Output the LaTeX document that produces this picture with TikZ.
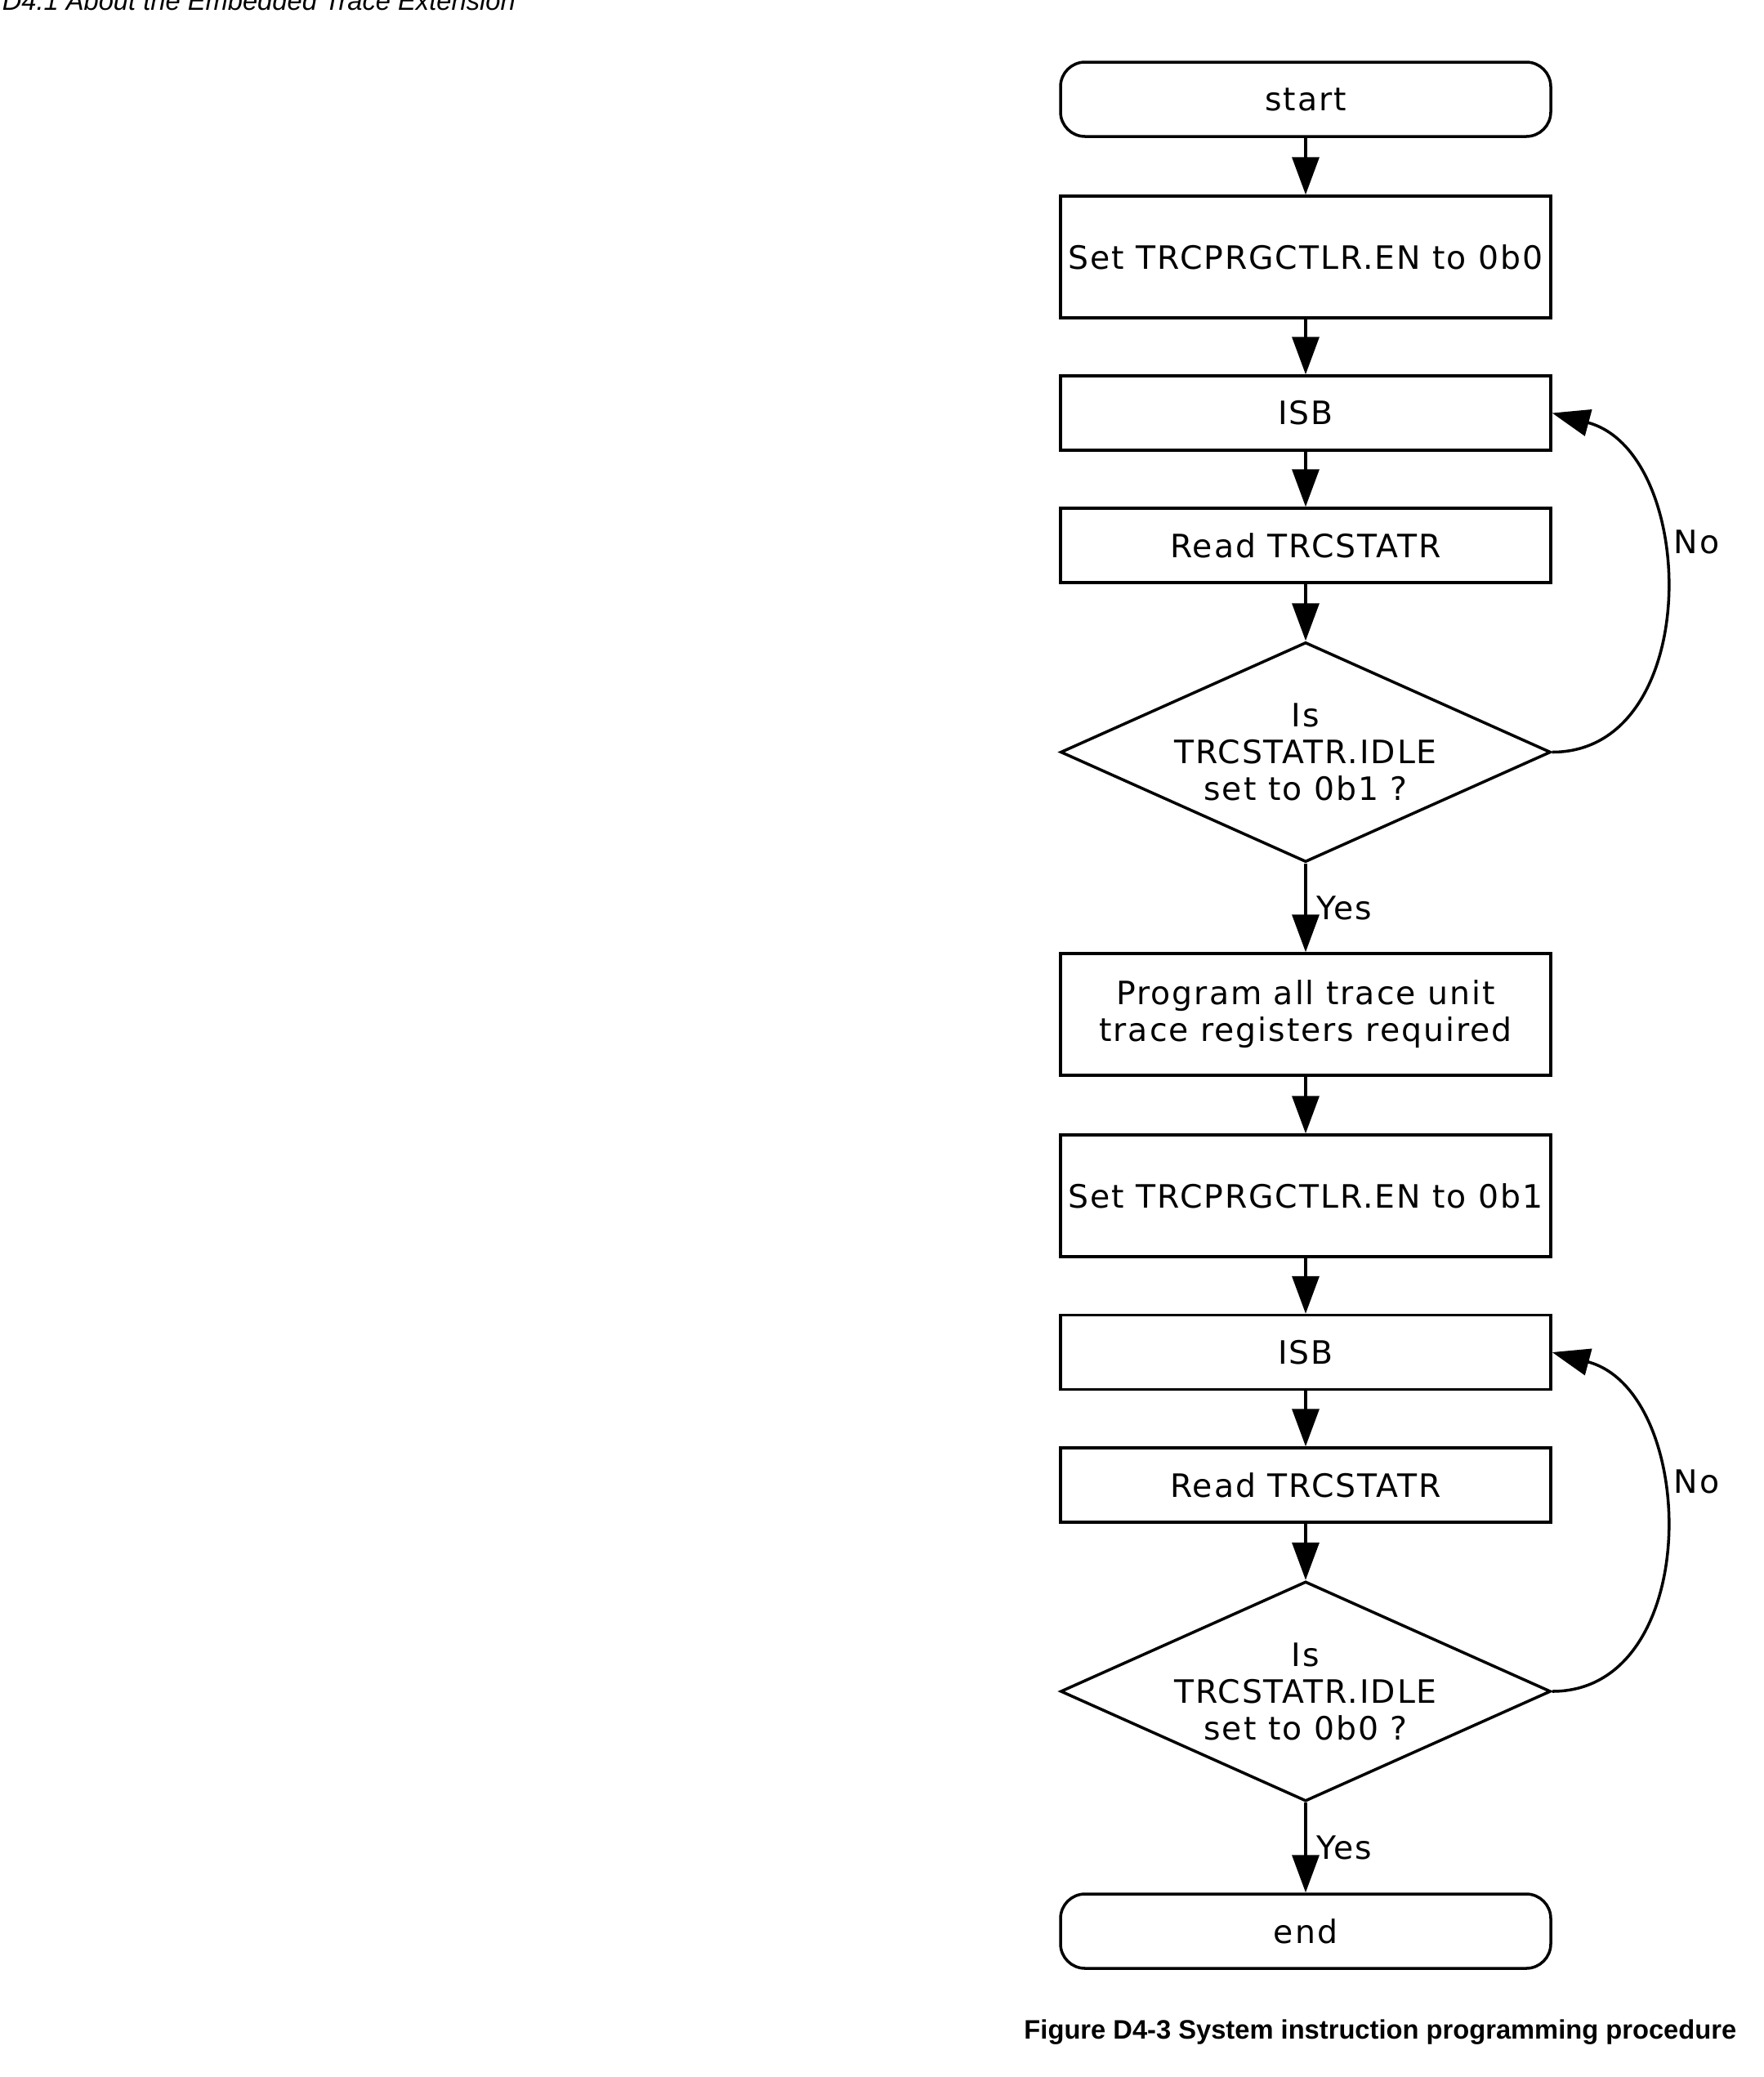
\documentclass[tikz,border=0pt]{standalone}
\usepackage{fontspec}
\setmainfont{DejaVu Sans}[LetterSpace=5]
\newfontfamily\armfont{Liberation Sans}
\usepackage{tikz}
\usetikzlibrary{shapes,arrows.meta,positioning,calc}

\begin{document}
\begin{tikzpicture}[font=\fontsize{11.2}{12.8}\selectfont, line width=1pt,
	procbox/.style={draw, rectangle, minimum width=6cm, inner sep=0pt, align=center},
	termbox/.style={procbox, rounded corners=0.3cm, minimum height=0.91cm},
	decbox/.style={draw, diamond, aspect=2.23, inner sep=0pt, minimum width=6cm, minimum height=2.69cm, align=center},
	flowarr/.style={-{Triangle[length=4.6mm, width=3.3mm]}}]
	\useasboundingbox (0,0) rectangle (21.59,-25.42);
	\node[anchor=base west, inner sep=0pt, font=\armfont\itshape\fontsize{9.3}{11}\selectfont] (hdr) at (0.01,-0.12) {D4.1 About the Embedded Trace Extension};
	\node[termbox] (start) at (15.98,-1.215) {start};
	\node[procbox, minimum height=1.49cm] (set0) at (15.98,-3.145) {Set TRCPRGCTLR.EN to 0b0};
	\node[procbox, minimum height=0.91cm] (isb1) at (15.98,-5.055) {ISB};
	\node[procbox, minimum height=0.91cm] (read1) at (15.98,-6.675) {Read TRCSTATR};
	\node[decbox] (dia1) at (15.98,-9.205) {Is\\TRCSTATR.IDLE\\set to 0b1 ?};
	\node[procbox, minimum height=1.49cm] (prog) at (15.98,-12.415) {Program all trace unit\\trace registers required};
	\node[procbox, minimum height=1.49cm] (set1) at (15.98,-14.635) {Set TRCPRGCTLR.EN to 0b1};
	\node[procbox, minimum height=0.91cm] (isb2) at (15.98,-16.55) {ISB};
	\node[procbox, minimum height=0.91cm] (read2) at (15.98,-18.175) {Read TRCSTATR};
	\node[decbox] (dia2) at (15.98,-20.70) {Is\\TRCSTATR.IDLE\\set to 0b0 ?};
	\node[termbox] (end) at (15.98,-23.635) {end};
	\foreach \a/\b in {start/set0, set0/isb1, isb1/read1, read1/dia1, prog/set1, set1/isb2, isb2/read2, read2/dia2} {
		\draw[flowarr] (\a) -- (\b);
	}
	\draw[flowarr] (dia1) -- node[right] {Yes} (prog);
	\draw[flowarr] (dia2) -- node[right] {Yes} (end);
	\draw[flowarr] (dia1.east) to[out=0, in=-15, looseness=1.15] node[pos=0.615, right, xshift=0.06cm] {No} (isb1.east);
	\draw[flowarr] (dia2.east) to[out=0, in=-15, looseness=1.15] node[pos=0.615, right, xshift=0.06cm] {No} (isb2.east);
	\node[anchor=base east, inner sep=0pt, font=\armfont\bfseries\fontsize{9.3}{11}\selectfont] (cap) at (21.27,-24.95) {Figure D4-3 System instruction programming procedure};
\end{tikzpicture}
\end{document}
